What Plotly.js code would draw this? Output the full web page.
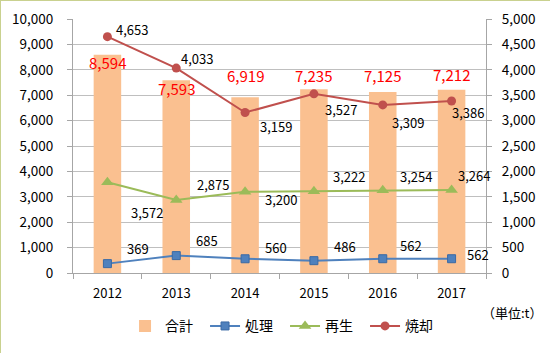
<!DOCTYPE html>
<html><head><meta charset="utf-8">
<script src="https://cdn.plot.ly/plotly-3.0.1.min.js"></script>
<style>
html,body{margin:0;padding:0;background:#fff;}
#chart{width:550px;height:353px;box-sizing:border-box;border:1.5px solid #c9d18f;}
</style></head><body>
<div id="chart"></div>
<script>
// ---- data ----
const years = ['2012','2013','2014','2015','2016','2017'];
const total = [8594, 7593, 6919, 7235, 7125, 7212];   // 合計 (left axis, bars)
const shori = [369, 685, 560, 486, 562, 562];         // 処理 (left axis)
const saisei = [3572, 2875, 3200, 3222, 3254, 3264];  // 再生 (left axis)
const shokyaku = [4653, 4033, 3159, 3527, 3309, 3386];// 焼却 (right axis)
const leftTicks = [0,1000,2000,3000,4000,5000,6000,7000,8000,9000,10000];
const rightTicks = [0,500,1000,1500,2000,2500,3000,3500,4000,4500,5000];

// ---- label placement (screen px offsets: dx right, dy down) ----
const redOff = [[25,-7],[21,-10],[31,14],[27,16],[25,18],[16,12]];
const blueOff = [[31,-15],[31,-15],[31,-11],[31,-14],[28,-13],[26,-4]];
const greenOff = [[40,30],[37,-15],[36,8],[35,-15],[33,-14],[22,-15]];
const barOff = [8,8,-22,-14,-17,-15];

const FONT = '"Noto Sans CJK JP", "Noto Sans", sans-serif';
const fmt = v => v.toLocaleString('en-US');

const traces = [
  {type:'bar', name:'合計', x:years, y:total, marker:{color:'#fac090'}, width:0.4, yaxis:'y'},
  {type:'scatter', mode:'lines+markers', name:'処理', x:years, y:shori, yaxis:'y',
   line:{color:'#4f81bd', width:2}, marker:{symbol:'square', size:8, color:'#4f81bd', line:{color:'#3a6aa5', width:1}}},
  {type:'scatter', mode:'lines+markers', name:'再生', x:years, y:saisei, yaxis:'y',
   line:{color:'#9bbb59', width:2}, marker:{symbol:'triangle-up', size:11, color:'#9bbb59'}},
  {type:'scatter', mode:'lines+markers', name:'焼却', x:years, y:shokyaku, yaxis:'y2',
   line:{color:'#c0504d', width:2}, marker:{symbol:'circle', size:9, color:'#c0504d'}}
];

const ann = [];
function addLabels(vals, offs, yref, color, size, family){
  vals.forEach((v,i)=>{
    ann.push({x:i, y:v, xref:'x', yref:yref, text:fmt(v), showarrow:false,
      xanchor:'center', yanchor:'middle', xshift:offs[i][0], yshift:-offs[i][1],
      font:{family:family||FONT, size:size, color:color}});
  });
}
addLabels(shokyaku, redOff, 'y2', '#000', 13);
addLabels(shori, blueOff, 'y', '#000', 13);
addLabels(saisei, greenOff, 'y', '#000', 13);
total.forEach((v,i)=>{
  ann.push({x:i, y:v, xref:'x', yref:'y', text:fmt(v), showarrow:false,
    xanchor:'center', yanchor:'middle', yshift:-barOff[i],
    font:{family:FONT, size:15, color:'#ff0000'}});
});
ann.push({xref:'paper', yref:'paper', x:1.142, y:-0.155, xanchor:'right', yanchor:'middle',
  text:'（単位:t）', showarrow:false, font:{family:FONT, size:13, color:'#000'}});

const layout = {
  width:550, height:353,
  margin:{l:72, r:65, t:18, b:78},
  paper_bgcolor:'#fff', plot_bgcolor:'#fff',
  font:{family:FONT, size:13, color:'#000'},
  showlegend:true,
  bargap:0.6,
  xaxis:{type:'category', range:[-0.5,5.5], autorange:false, showgrid:false, showline:true, linecolor:'#a6a6a6', linewidth:1,
    ticks:'outside', tickson:'boundaries', ticklen:5, tickcolor:'#a6a6a6',
    tickfont:{size:13}, ticklabelstandoff:8, tickangle:0},
  yaxis:{range:[0,10000], autorange:false, tickvals:leftTicks, ticktext:leftTicks.map(fmt),
    showgrid:true, gridcolor:'#bfbfbf', gridwidth:1, showline:true, linecolor:'#a6a6a6',
    ticks:'outside', ticklen:5, tickcolor:'#a6a6a6', zeroline:false,
    tickfont:{size:13.5}, ticklabelstandoff:11},
  yaxis2:{range:[0,5000], autorange:false, overlaying:'y', side:'right', tickvals:rightTicks, ticktext:rightTicks.map(fmt),
    showgrid:false, showline:true, linecolor:'#a6a6a6', ticks:'outside', ticklen:5, tickcolor:'#a6a6a6',
    zeroline:false, tickfont:{size:13.5}, ticklabelstandoff:7},
  legend:{orientation:'h', x:0.126, xanchor:'left', y:-0.21, yanchor:'middle',
    entrywidth:35, entrywidthmode:'pixels',
    font:{family:FONT, size:14}, traceorder:'normal'},
  annotations:ann
};
Plotly.newPlot('chart', traces, layout, {displayModeBar:false, staticPlot:true});
</script>
</body></html>
